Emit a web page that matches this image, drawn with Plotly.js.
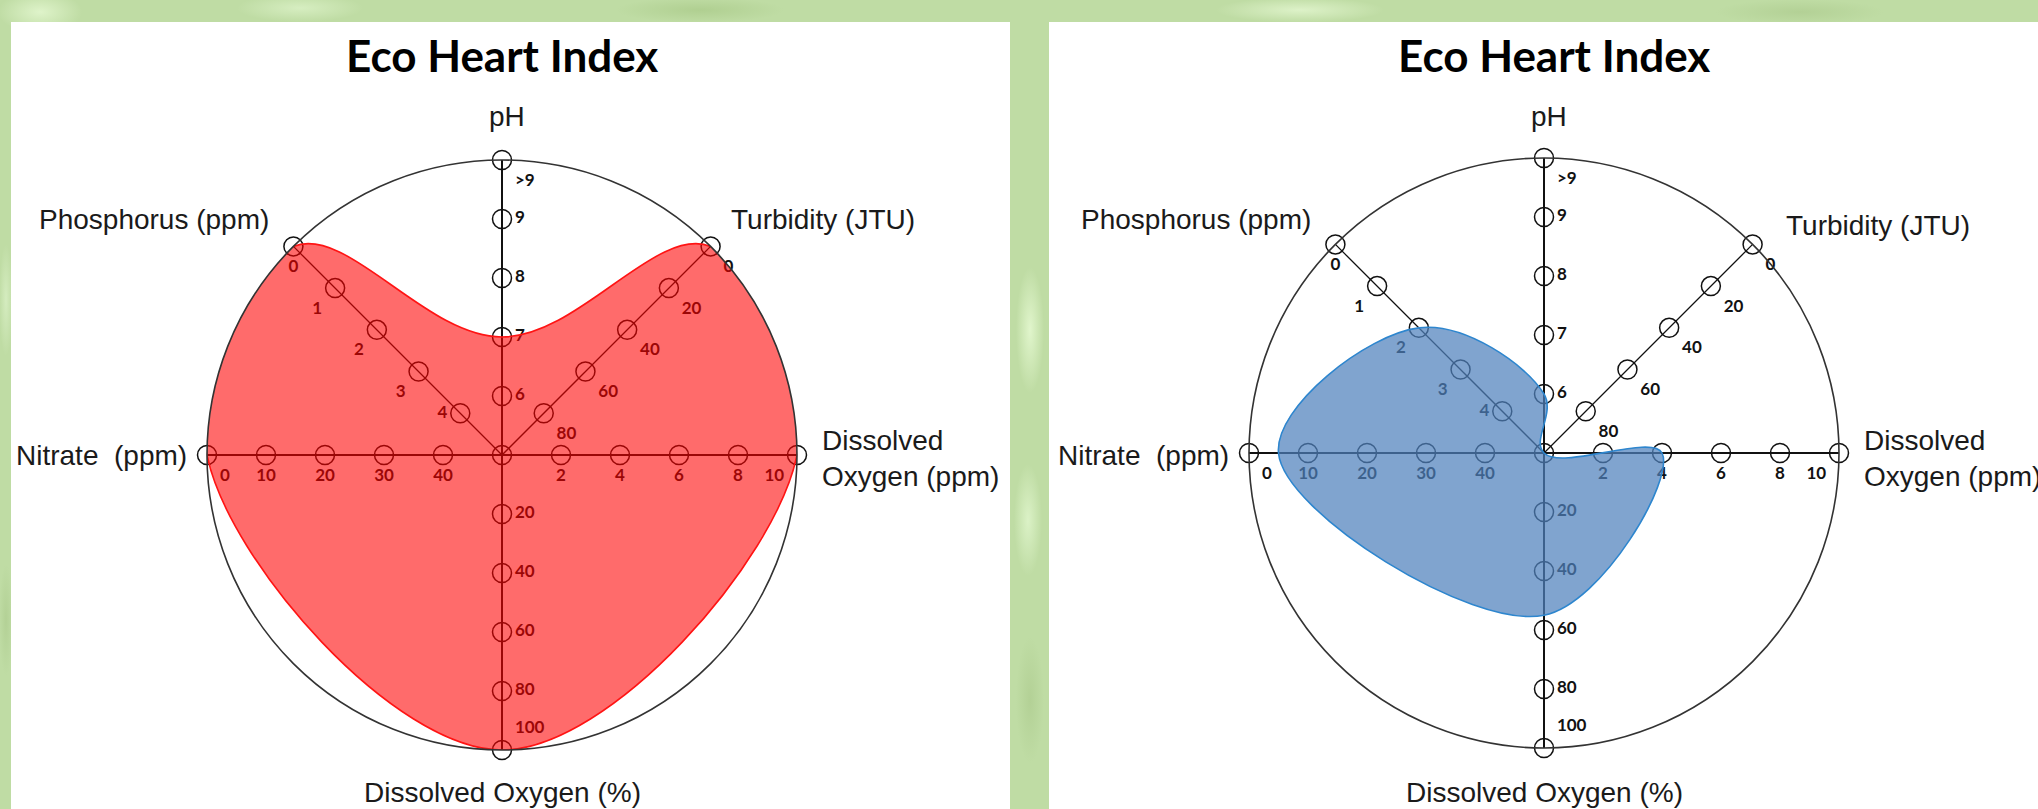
<!DOCTYPE html>
<html>
<head>
<meta charset="utf-8">
<script src="https://cdn.plot.ly/plotly-3.0.1.min.js"></script>
<style>
html,body{margin:0;padding:0;width:2038px;height:809px;overflow:hidden;}
body{
  background-color:#bfdca4;
  background-image:
    radial-gradient(ellipse 60px 30px at 40px 12px, rgba(226,246,206,0.9), rgba(226,246,206,0) 70%),
    radial-gradient(ellipse 90px 20px at 300px 8px, rgba(220,242,200,0.8), rgba(220,242,200,0) 70%),
    radial-gradient(ellipse 120px 18px at 700px 10px, rgba(172,204,140,0.8), rgba(172,204,140,0) 70%),
    radial-gradient(ellipse 120px 18px at 1300px 10px, rgba(224,244,204,0.9), rgba(224,244,204,0) 70%),
    radial-gradient(ellipse 120px 18px at 1800px 12px, rgba(176,206,146,0.8), rgba(176,206,146,0) 70%),
    radial-gradient(ellipse 20px 90px at 1030px 330px, rgba(228,248,208,0.9), rgba(228,248,208,0) 70%),
    radial-gradient(ellipse 20px 80px at 1028px 520px, rgba(222,244,202,0.9), rgba(222,244,202,0) 70%),
    radial-gradient(ellipse 20px 90px at 1030px 700px, rgba(176,206,146,0.8), rgba(176,206,146,0) 70%),
    radial-gradient(ellipse 10px 80px at 6px 300px, rgba(218,240,198,0.8), rgba(218,240,198,0) 70%),
    radial-gradient(ellipse 10px 80px at 6px 620px, rgba(176,206,146,0.8), rgba(176,206,146,0) 70%);
}
#chart{width:2038px;height:809px;}
</style>
</head>
<body>
<div id="chart"></div>
<script>
// ---------------- DATA ----------------
const axisNames   = ['pH', 'Turbidity (JTU)', 'Dissolved Oxygen (ppm)', 'Dissolved Oxygen (%)', 'Nitrate (ppm)', 'Phosphorus (ppm)'];
const axisAngles  = [90, 45, 0, 270, 180, 135];
const centerValues = [5, 100, 0, 0, 50, 5];     // value shown at the centre of each spoke
const rimValues    = [10, 0, 10, 100, 0, 0];    // value shown at the rim of each spoke
const tickValues = [
  [6, 7, 8, 9, 10],
  [80, 60, 40, 20, 0],
  [2, 4, 6, 8, 10],
  [20, 40, 60, 80, 100],
  [40, 30, 20, 10, 0],
  [4, 3, 2, 1, 0]
];
const tickLabels = [
  ['6', '7', '8', '9', '>9'],
  ['80', '60', '40', '20', '0'],
  ['2', '4', '6', '8', '10'],
  ['20', '40', '60', '80', '100'],
  ['40', '30', '20', '10', '0'],
  ['4', '3', '2', '1', '0']
];
const heartValues = [7, 0, 10, 100, 0, 0];   // left chart
const siteValues  = [6, 100, 4, 55, 5, 2];   // right chart
const chartTitle = 'Eco Heart Index';

// ---------------- STYLE ----------------
const tickTextPos = [
  ['middle right', 'middle right', 'middle right', 'middle right', 'bottom right'],
  ['bottom right', 'bottom right', 'bottom right', 'bottom right', 'bottom right'],
  ['bottom center', 'bottom center', 'bottom center', 'bottom center', 'bottom left'],
  ['middle right', 'middle right', 'middle right', 'middle right', 'top right'],
  ['bottom center', 'bottom center', 'bottom center', 'bottom center', 'bottom right'],
  ['middle left', 'bottom left', 'bottom left', 'bottom left', 'bottom center']
];
const W = 2038, H = 809;

function toR(i, v) { return (v - centerValues[i]) / (rimValues[i] - centerValues[i]); }

function buildChart(subplot, values, fillColor, lineColor) {
  const traces = [];
  // spokes
  axisAngles.forEach((a, i) => {
    traces.push({
      type: 'scatterpolar', subplot: subplot, mode: 'lines',
      r: [0, 1], theta: [a, a],
      line: {color: '#111', width: (a % 90 === 0) ? 2 : 1.3},
      cliponaxis: false, hoverinfo: 'skip', showlegend: false
    });
  });
  // tick markers with labels
  const r = [0], th = [0], tx = [''], tp = ['middle right'];
  axisAngles.forEach((a, i) => {
    tickValues[i].forEach((v, j) => {
      r.push(toR(i, v)); th.push(a); tx.push(tickLabels[i][j]); tp.push(tickTextPos[i][j]);
    });
  });
  traces.push({
    type: 'scatterpolar', subplot: subplot, mode: 'markers+text',
    r: r, theta: th, text: tx, textposition: tp,
    textfont: {family: 'Lato, sans-serif', size: 17, color: '#111', weight: 700},
    marker: {symbol: 'circle-open', size: 19, color: '#111', line: {width: 1.5, color: '#111'}},
    cliponaxis: false, hoverinfo: 'skip', showlegend: false
  });
  // filled smooth series
  const fr = values.map((v, i) => toR(i, v));
  const ft = axisAngles.slice();
  fr.push(fr[0]); ft.push(ft[0]);
  traces.push({
    type: 'scatterpolar', subplot: subplot, mode: 'lines',
    r: fr, theta: ft, fill: 'toself', fillcolor: fillColor,
    line: {color: lineColor, width: 1.6, shape: 'spline', smoothing: 1.1},
    cliponaxis: false, hoverinfo: 'skip', showlegend: false
  });
  return traces;
}

const data = [].concat(
  buildChart('polar', heartValues, 'rgba(255,0,0,0.58)', 'rgba(255,20,20,1)'),
  buildChart('polar2', siteValues, 'rgba(79,129,189,0.72)', 'rgba(46,134,206,1)')
);

function polarCfg(cx, cy, rad) {
  return {
    domain: {x: [(cx - rad) / W, (cx + rad) / W], y: [(H - cy - rad) / H, (H - cy + rad) / H]},
    bgcolor: 'rgba(0,0,0,0)',
    radialaxis: {visible: false, range: [0, 1]},
    angularaxis: {
      rotation: 0, direction: 'counterclockwise',
      showgrid: false, showticklabels: false, ticks: '',
      showline: true, linecolor: '#333', linewidth: 1.6
    }
  };
}

const labFont = {family: '"Liberation Sans", Arial, sans-serif', size: 28, color: '#1a1a1a'};
const titleFont = {family: 'Lato, sans-serif', size: 44, color: '#000', weight: 700};
function ann(text, x, y, opts) {
  return Object.assign({
    text: text, x: x / W, y: 1 - y / H, xref: 'paper', yref: 'paper',
    showarrow: false, font: labFont, xanchor: 'center', yanchor: 'middle'
  }, opts || {});
}
function chartAnns(cx, offs) {
  return [
    ann(chartTitle, cx + offs.title, 55, {font: titleFont}),
    ann(axisNames[0], cx + 5, 116),
    ann(axisNames[5], cx - 348, 219),
    ann(axisNames[1], cx + offs.turb, 219 + offs.turbY),
    ann('Nitrate\u00a0 (ppm)', cx - 401, 455),
    ann('Dissolved<br>Oxygen (ppm)', cx + 318, 459, {xanchor: 'left', align: 'left'}),
    ann('Dissolved Oxygen (%)', cx, 792)
  ];
}

const layout = {
  width: W, height: H,
  margin: {l: 0, r: 0, t: 0, b: 0},
  paper_bgcolor: 'rgba(0,0,0,0)',
  plot_bgcolor: 'rgba(0,0,0,0)',
  showlegend: false,
  polar: polarCfg(502, 455, 295),
  polar2: polarCfg(1544, 453, 295),
  shapes: [
    {type: 'rect', xref: 'paper', yref: 'paper', x0: 11 / W, x1: 1010 / W, y0: 0, y1: 1 - 22 / H,
     fillcolor: '#ffffff', line: {width: 0}, layer: 'below'},
    {type: 'rect', xref: 'paper', yref: 'paper', x0: 1049 / W, x1: 1, y0: 0, y1: 1 - 22 / H,
     fillcolor: '#ffffff', line: {width: 0}, layer: 'below'}
  ],
  annotations: [].concat(
    chartAnns(502, {title: 0, turb: 321, turbY: 0}),
    chartAnns(1544, {title: 10, turb: 334, turbY: 7})
  )
};

Plotly.newPlot('chart', data, layout, {staticPlot: true, displayModeBar: false});
</script>
</body>
</html>
